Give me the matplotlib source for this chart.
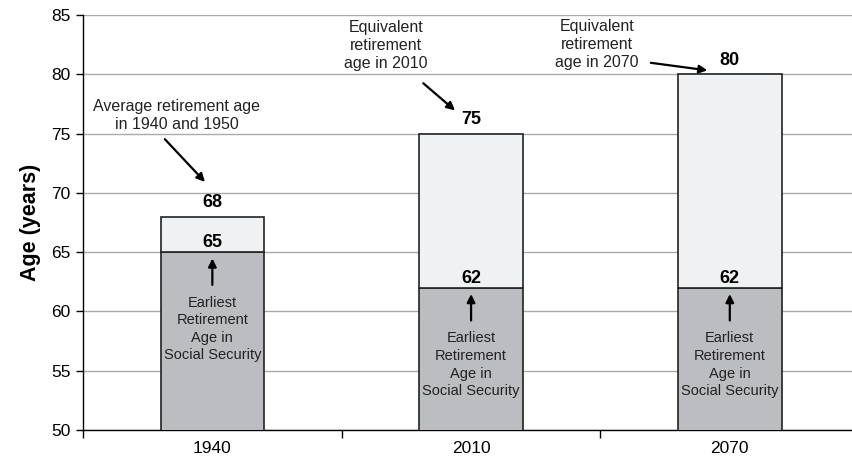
import numpy as np
import matplotlib
matplotlib.use('Agg')
from matplotlib import pyplot as plt

plt.rcParams['font.family'] = ['Liberation Sans', 'DejaVu Sans']

years = ['1940', '2010', '2070']
earliest_age = [65, 62, 62]
equivalent_age = [68, 75, 80]
top_notes = ['Average retirement age\nin 1940 and 1950',
             'Equivalent\nretirement\nage in 2010',
             'Equivalent\nretirement\nage in 2070']
inner_note = 'Earliest\nRetirement\nAge in\nSocial Security'

x = np.arange(len(years))
lower = np.array(earliest_age)
upper = np.array(equivalent_age) - lower

fig = plt.figure(figsize=(8.52, 4.63), dpi=100)
ax = fig.add_axes([0.0974, 0.0713, 0.911, 0.8963])

ax.bar(x, lower, width=0.4, bottom=0, color='#bcbdc0', edgecolor='#222222', linewidth=1.2, zorder=3)
ax.bar(x, upper, width=0.4, bottom=lower, color='#f0f1f2', edgecolor='#222222', linewidth=1.2, zorder=3)

ax.set_xlim(-0.5, 2.5)
ax.set_ylim(50, 85)
ax.set_yticks(np.arange(50, 86, 5))
ax.yaxis.grid(True, color='#aaaaaa', linewidth=1)
ax.set_axisbelow(True)
ax.set_xticks(x)
ax.set_xticklabels(years)
ax.set_xticks([-0.5, 0.5, 1.5, 2.5], minor=True)
ax.tick_params(axis='x', which='major', length=0, pad=8, labelsize=12.5)
ax.tick_params(axis='x', which='minor', length=6, width=1)
ax.tick_params(axis='y', length=5, width=1, labelsize=12.5, pad=4)
for s in ['top', 'right']:
    ax.spines[s].set_visible(False)
for s in ['left', 'bottom']:
    ax.spines[s].set_linewidth(1)
ax.set_ylabel('Age (years)', fontsize=15.5, fontweight='bold', labelpad=7)

# value labels
for i in range(len(years)):
    ax.text(x[i], equivalent_age[i] + 0.45, str(equivalent_age[i]), ha='center', va='bottom',
            fontsize=13, fontweight='bold')
    ax.text(x[i], earliest_age[i] + 0.1, str(earliest_age[i]), ha='center', va='bottom',
            fontsize=13, fontweight='bold')
    ax.annotate('', xy=(x[i], earliest_age[i] - 0.3), xytext=(x[i], earliest_age[i] - 3.0),
                arrowprops=dict(arrowstyle='-|>', color='black', lw=1.6, mutation_scale=12))
    ax.text(x[i], earliest_age[i] - 6.5, inner_note, ha='center', va='center',
            fontsize=10.5, color='#222222', linespacing=1.32)

# top annotations
note_pos = [(-0.137, 76.55), (0.671, 82.4), (1.487, 82.55)]
arrow_from = [(-0.191, 74.7), (0.807, 79.4), (1.684, 81.0)]
arrow_to = [(-0.021, 70.75), (0.946, 76.8), (1.924, 80.3)]
for i in range(len(years)):
    ax.text(note_pos[i][0], note_pos[i][1], top_notes[i], ha='center', va='center',
            fontsize=11.5, color='#222222', linespacing=1.25)
    ax.annotate('', xy=arrow_to[i], xytext=arrow_from[i],
                arrowprops=dict(arrowstyle='-|>', color='black', lw=1.6, mutation_scale=12))

fig.savefig('out.png', dpi=100)
